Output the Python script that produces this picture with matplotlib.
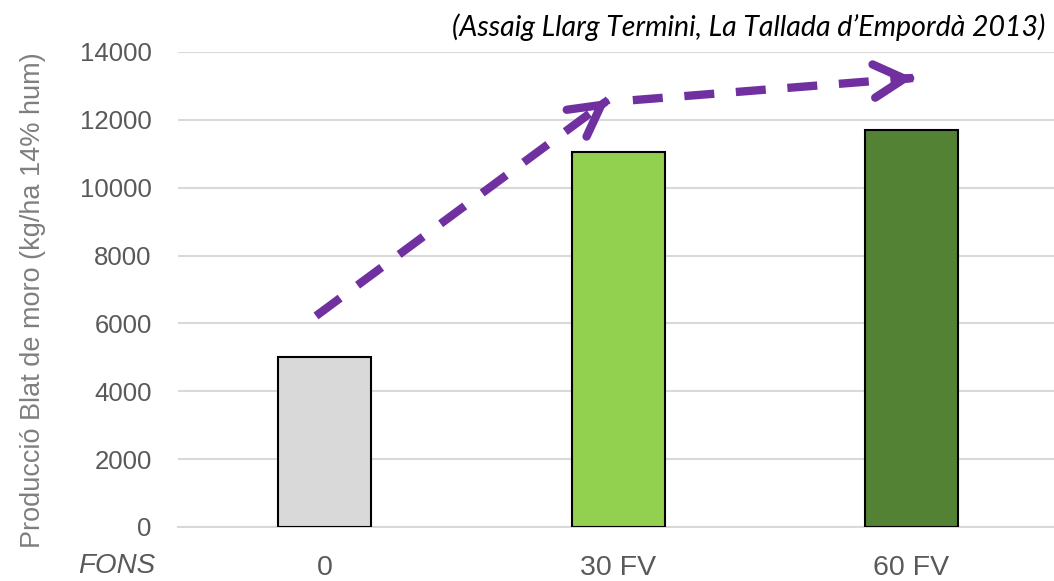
import matplotlib.pyplot as plt

categories = ["0", "30 FV", "60 FV"]
values = [5000, 11050, 11700]
colors = ["#D9D9D9", "#92D050", "#548235"]
yticks = [0, 2000, 4000, 6000, 8000, 10000, 12000, 14000]

# trend arrows (data coords: category index, yield)
arrows = [((-0.03, 6220), (0.966, 12590)),
          ((1.05, 12580), (2.005, 13235))]

plt.rcParams["font.family"] = ["Liberation Sans", "DejaVu Sans"]
grey = "#595959"
purple = "#7030A0"

fig = plt.figure(figsize=(10.54, 5.81), dpi=100)
ax = fig.add_axes([0.169, 0.093, 0.835, 0.8175])

x = range(len(categories))
ax.bar(x, values, width=0.317, color=colors, edgecolor="black",
       linewidth=1.5, zorder=3)

ax.set_xlim(-0.5, 2.5)
ax.set_ylim(0, 14000)
ax.set_yticks(yticks)
ax.set_yticklabels([str(v) for v in yticks], fontsize=18.5, color=grey)
ax.set_xticks(list(x))
ax.set_xticklabels(categories, fontsize=20.5, color=grey)
ax.tick_params(axis="both", length=0)
ax.tick_params(axis="y", pad=19)
ax.tick_params(axis="x", pad=20)
ax.grid(axis="y", color="#D9D9D9", linewidth=1.5, zorder=0)
for s in ["left", "right", "top"]:
    ax.spines[s].set_visible(False)
ax.spines["bottom"].set_color("#D9D9D9")
ax.spines["bottom"].set_linewidth(1.5)

ax.set_ylabel("Producció Blat de moro (kg/ha 14% hum)", fontsize=19.5,
              color="#7F7F7F")
ax.yaxis.set_label_coords(-0.15, 0.477)

for (x0, y0), (x1, y1) in arrows:
    ax.plot([x0, x1], [y0, y1], color=purple, lw=6, dashes=(3.6, 2.6),
            dash_capstyle="butt", zorder=5)
    bx = x1 - 0.01 * (x1 - x0)
    by = y1 - 0.01 * (y1 - y0)
    ax.annotate("", xy=(x1, y1), xytext=(bx, by),
                arrowprops=dict(arrowstyle="->,head_length=1.1,head_width=0.6",
                                mutation_scale=20, color=purple, lw=6,
                                capstyle="round", joinstyle="miter",
                                shrinkA=0, shrinkB=0),
                zorder=5)

fig.text(0.111, 0.026, "FONS", fontsize=20, style="italic", color=grey,
         ha="center", va="center")
fig.text(0.992, 0.953, "(Assaig Llarg Termini, La Tallada d\u2019Empordà 2013)",
         fontsize=20.5, style="italic", family=["Lato", "DejaVu Sans"],
         color="black", ha="right", va="center")

fig.savefig("out.png", dpi=100)
